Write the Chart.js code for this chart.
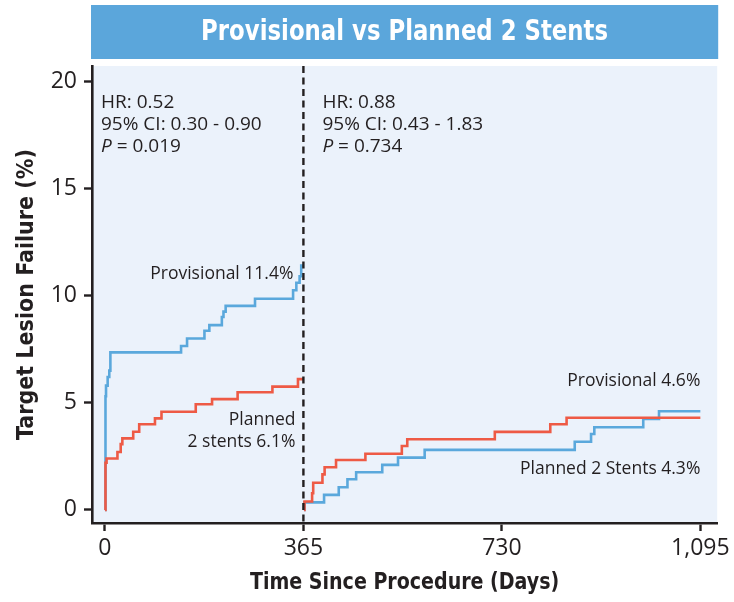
<!DOCTYPE html>
<html>
<head>
<meta charset="utf-8">
<script src="https://cdn.jsdelivr.net/npm/chart.js@4.4.1/dist/chart.umd.min.js"></script>
<style>
  html, body { margin: 0; padding: 0; background: #ffffff; }
  #wrap { width: 734px; height: 602px; }
</style>
</head>
<body>
<div id="wrap"><canvas id="km" width="734" height="602"></canvas></div>
<script>
// Kaplan-Meier estimates of target lesion failure, landmark at 365 days.
// Each series: days at which the cumulative rate changes, and the rate (%) after that day.
const provisionalYear1Days = [0, 1, 2, 5, 8, 10, 140, 151, 183, 192, 215, 218, 222, 276, 346, 352, 358, 361, 365];
const provisionalYear1Rate = [0, 5.3, 5.8, 6.2, 6.5, 7.35, 7.65, 8.0, 8.36, 8.62, 9.0, 9.25, 9.52, 9.85, 10.25, 10.6, 10.9, 11.4, 11.4];

const planned2Year1Days = [0, 1, 3, 23, 29, 32, 52, 63, 92, 104, 167, 197, 244, 308, 355, 365];
const planned2Year1Rate = [0, 2.2, 2.4, 2.7, 3.07, 3.34, 3.65, 4.0, 4.27, 4.58, 4.93, 5.17, 5.49, 5.75, 6.1, 6.1];

const provisionalYear2Days = [366, 367, 403, 430, 446, 462, 510, 539, 588, 864, 894, 900, 990, 1019, 1095];
const provisionalYear2Rate = [0, 0.35, 0.7, 1.06, 1.43, 1.76, 2.1, 2.44, 2.8, 3.18, 3.54, 3.86, 4.24, 4.6, 4.6];

const planned2Year2Days = [366, 367, 381, 383, 400, 404, 425, 479, 546, 556, 717, 819, 849, 1095];
const planned2Year2Rate = [0, 0.39, 0.78, 1.27, 1.66, 1.99, 2.33, 2.62, 2.98, 3.3, 3.64, 4.0, 4.3, 4.3];

const xTickDays = [0, 365, 730, 1095];
const yTickRates = [0, 5, 10, 15, 20];
const landmarkDay = 365;

const chartTitle = 'Provisional vs Planned 2 Stents';
const xAxisTitle = 'Time Since Procedure (Days)';
const yAxisTitle = 'Target Lesion Failure (%)';
const year1Stats = ['HR: 0.52', '95% CI: 0.30 - 0.90', '0.019'];
const year2Stats = ['HR: 0.88', '95% CI: 0.43 - 1.83', '0.734'];

const BLUE = '#5aa8dc';
const RED = '#ee5a45';
const INK = '#231f20';
const PANEL = '#ebf2fb';
const BANNER = '#5ba6db';

const NARROW = '"DejaVu Sans Condensed", "DejaVu Sans", sans-serif';
const BODY = '"Open Sans", "Noto Sans", sans-serif';

function toPoints(days, rates) {
  return days.map((d, i) => ({ x: d, y: rates[i] }));
}

function stepSeries(days, rates, color) {
  return {
    data: toPoints(days, rates),
    borderColor: color,
    borderWidth: 2.6,
    pointRadius: 0,
    stepped: true,
    fill: false,
    tension: 0
  };
}

// Red series first so they are painted over the blue ones.
const datasets = [
  stepSeries(planned2Year1Days, planned2Year1Rate, RED),
  stepSeries(planned2Year2Days, planned2Year2Rate, RED),
  stepSeries(provisionalYear1Days, provisionalYear1Rate, BLUE),
  stepSeries(provisionalYear2Days, provisionalYear2Rate, BLUE)
];

// Text squeezed horizontally to give a condensed look.
function condensedText(ctx, text, cx, cy, font, squeeze, color) {
  ctx.save();
  ctx.font = font;
  ctx.fillStyle = color;
  ctx.textAlign = 'center';
  ctx.textBaseline = 'middle';
  ctx.translate(cx, cy);
  ctx.scale(squeeze, 1);
  ctx.fillText(text, 0, 0);
  ctx.restore();
}

const decorations = {
  id: 'decorations',
  beforeDraw(chart) {
    const { ctx, chartArea: a } = chart;
    ctx.save();
    // panel background
    ctx.fillStyle = PANEL;
    ctx.fillRect(a.left, a.top, a.right - a.left, a.bottom - a.top);
    // title banner
    ctx.fillStyle = BANNER;
    ctx.fillRect(a.left - 1, 5, a.right - a.left + 2, 54);
    ctx.restore();
    condensedText(ctx, chartTitle, (a.left + a.right) / 2, 32, 'bold 29px ' + NARROW, 0.875, '#ffffff');
    // x axis title
    condensedText(ctx, xAxisTitle, (a.left + a.right) / 2, 583, 'bold 23.5px ' + NARROW, 0.9, INK);
  },
  afterDatasetsDraw(chart) {
    const { ctx, chartArea: a, scales: { x } } = chart;
    ctx.save();
    // landmark line
    const lx = x.getPixelForValue(landmarkDay);
    ctx.strokeStyle = INK;
    ctx.lineWidth = 2.4;
    ctx.setLineDash([7, 4.5]);
    ctx.beginPath();
    ctx.moveTo(lx, a.top);
    ctx.lineTo(lx, a.bottom);
    ctx.stroke();
    ctx.setLineDash([]);

    ctx.fillStyle = INK;
    ctx.textBaseline = 'middle';

    function statBlock(lines, left, top) {
      ctx.textAlign = 'left';
      ctx.font = '19px ' + BODY;
      ctx.fillText(lines[0], left, top);
      ctx.fillText(lines[1], left, top + 22);
      ctx.font = 'italic 19px ' + BODY;
      ctx.fillText('P', left, top + 44);
      const pw = ctx.measureText('P').width;
      ctx.font = '19px ' + BODY;
      ctx.fillText(' = ' + lines[2], left + pw, top + 44);
    }
    statBlock(year1Stats, a.left + 9, 103);
    statBlock(year2Stats, lx + 19, 103);

    ctx.font = '17.5px ' + BODY;
    ctx.textAlign = 'right';
    ctx.fillText('Provisional 11.4%', lx - 10, 274);
    ctx.fillText('Planned', lx - 8, 420);
    ctx.fillText('2 stents 6.1%', lx - 8, 442);
    const rx = x.getPixelForValue(1095);
    ctx.fillText('Provisional 4.6%', rx, 381);
    ctx.fillText('Planned 2 Stents 4.3%', rx, 469);
    ctx.restore();
  }
};

new Chart(document.getElementById('km'), {
  type: 'line',
  data: { datasets },
  options: {
    responsive: false,
    animation: false,
    devicePixelRatio: 1,
    layout: { padding: { top: 66, right: 14, left: 0, bottom: 0 } },
    plugins: { legend: { display: false }, tooltip: { enabled: false }, title: { display: false } },
    scales: {
      x: {
        type: 'linear',
        min: -23.8,
        max: 1126,
        afterFit(scale) { scale.height = 79; },
        afterBuildTicks(scale) { scale.ticks = xTickDays.map(v => ({ value: v })); },
        grid: { drawOnChartArea: false, drawTicks: true, tickLength: 8, tickWidth: 2.4, tickColor: INK },
        border: { display: true, width: 2.6, color: INK },
        ticks: {
          color: INK,
          font: { family: BODY, size: 23 },
          padding: 4,
          maxRotation: 0,
          callback: v => v.toLocaleString('en-US')
        },
        title: { display: false }
      },
      y: {
        type: 'linear',
        min: -0.61,
        max: 20.71,
        afterFit(scale) { scale.width = 92; },
        afterBuildTicks(scale) { scale.ticks = yTickRates.map(v => ({ value: v })); },
        grid: { drawOnChartArea: false, drawTicks: true, tickLength: 8, tickWidth: 2.4, tickColor: INK },
        border: { display: true, width: 2.6, color: INK },
        ticks: {
          color: INK,
          font: { family: BODY, size: 23 },
          padding: 7
        },
        title: {
          display: true,
          text: yAxisTitle,
          color: INK,
          font: { family: NARROW, size: 23, weight: 'bold' },
          padding: { top: 13, bottom: 0 }
        }
      }
    }
  },
  plugins: [decorations]
});
</script>
</body>
</html>
